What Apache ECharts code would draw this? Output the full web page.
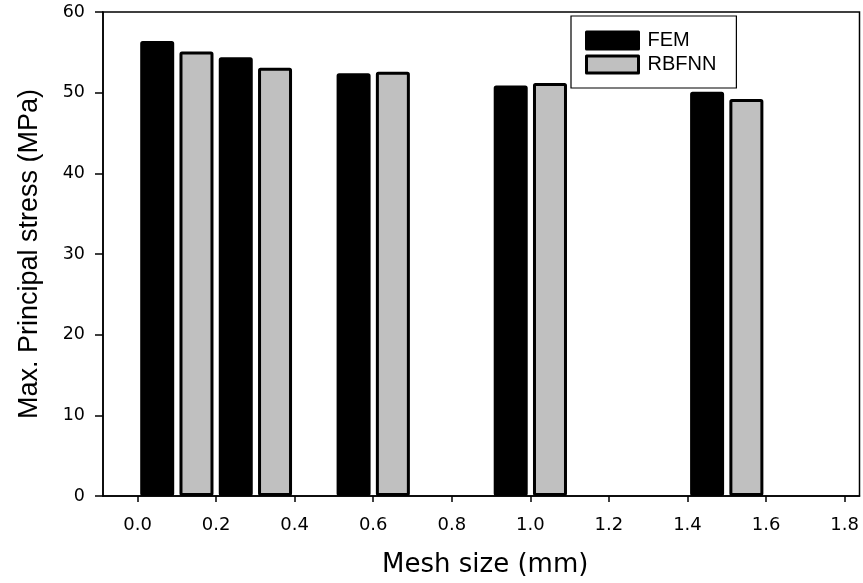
<!DOCTYPE html>
<html>
<head>
<meta charset="utf-8">
<script src="https://cdn.jsdelivr.net/npm/echarts@6/dist/echarts.min.js"></script>
<style>html,body{margin:0;padding:0;background:#fff;}#c{width:863px;height:583px;}</style>
</head>
<body>
<div id="c"></div>
<script>
const femX = [0.05, 0.25, 0.55, 0.95, 1.45];
const femY = [56.4, 54.4, 52.4, 50.9, 50.1];
const rbfX = [0.15, 0.35, 0.65, 1.05, 1.55];
const rbfY = [55.1, 53.1, 52.6, 51.2, 49.2];
const xTicks = [0.0, 0.2, 0.4, 0.6, 0.8, 1.0, 1.2, 1.4, 1.6, 1.8];
const yTicks = [0, 10, 20, 30, 40, 50, 60];

const chart = echarts.init(document.getElementById('c'), null, {renderer: 'canvas'});
const pair = (xs, ys) => xs.map((x, i) => [x, ys[i]]);
const barStyle = (fill) => ({color: fill, borderColor: '#000', borderWidth: 3, borderJoin: 'round', borderRadius: 1});

chart.setOption({
  animation: false,
  backgroundColor: '#fff',
  grid: {left: 103, right: 3.5, top: 12, bottom: 86, show: true, borderColor: '#000', borderWidth: 1.5, backgroundColor: 'transparent'},
  legend: {
    orient: 'vertical', left: 571, top: 16,
    itemWidth: 52, itemHeight: 17, itemGap: 4,
    padding: [14.5, 20, 13.5, 14],
    borderColor: '#000', borderWidth: 1.2,
    textStyle: {fontFamily: 'Liberation Sans', fontSize: 20, color: '#000', padding: [0, 0, 0, 4]},
    data: [
      {name: 'FEM', icon: 'rect', itemStyle: {color: '#000', borderColor: '#000', borderWidth: 3, borderJoin: 'round'}},
      {name: 'RBFNN', icon: 'rect', itemStyle: {color: '#c0c0c0', borderColor: '#000', borderWidth: 3, borderJoin: 'round'}}
    ]
  },
  xAxis: {
    type: 'value', min: -0.088, max: 1.838,
    name: 'Mesh size (mm)', nameLocation: 'middle', nameGap: 56,
    nameTextStyle: {fontFamily: 'DejaVu Sans', fontSize: 26, color: '#000', padding: [0, 0, 0, 8]},
    axisLine: {show: true, onZero: false, lineStyle: {color: '#000', width: 1.5}},
    axisTick: {show: true, length: 6, inside: false, customValues: xTicks, lineStyle: {color: '#000', width: 1.5}},
    axisLabel: {customValues: xTicks, margin: 20, fontFamily: 'DejaVu Sans', fontSize: 18, color: '#000', formatter: v => v.toFixed(1)},
    splitLine: {show: false}
  },
  yAxis: {
    type: 'value', min: 0, max: 60, interval: 10,
    name: 'Max. Principal stress (MPa)', nameLocation: 'middle', nameGap: 60,
    nameTextStyle: {fontFamily: 'Liberation Sans', fontSize: 27, color: '#000'},
    axisLine: {show: true, onZero: false, lineStyle: {color: '#000', width: 1.5}},
    axisTick: {show: true, length: 8, inside: false, lineStyle: {color: '#000', width: 1.5}},
    axisLabel: {margin: 18, fontFamily: 'DejaVu Sans', fontSize: 17.5, color: '#000', customValues: yTicks},
    splitLine: {show: false}
  },
  series: [
    {name: 'FEM', type: 'bar', barWidth: 34, barGap: '-100%', data: pair(femX, femY), itemStyle: barStyle('#000')},
    {name: 'RBFNN', type: 'bar', barWidth: 34, barGap: '-100%', data: pair(rbfX, rbfY), itemStyle: barStyle('#c0c0c0')}
  ]
});
</script>
</body>
</html>
